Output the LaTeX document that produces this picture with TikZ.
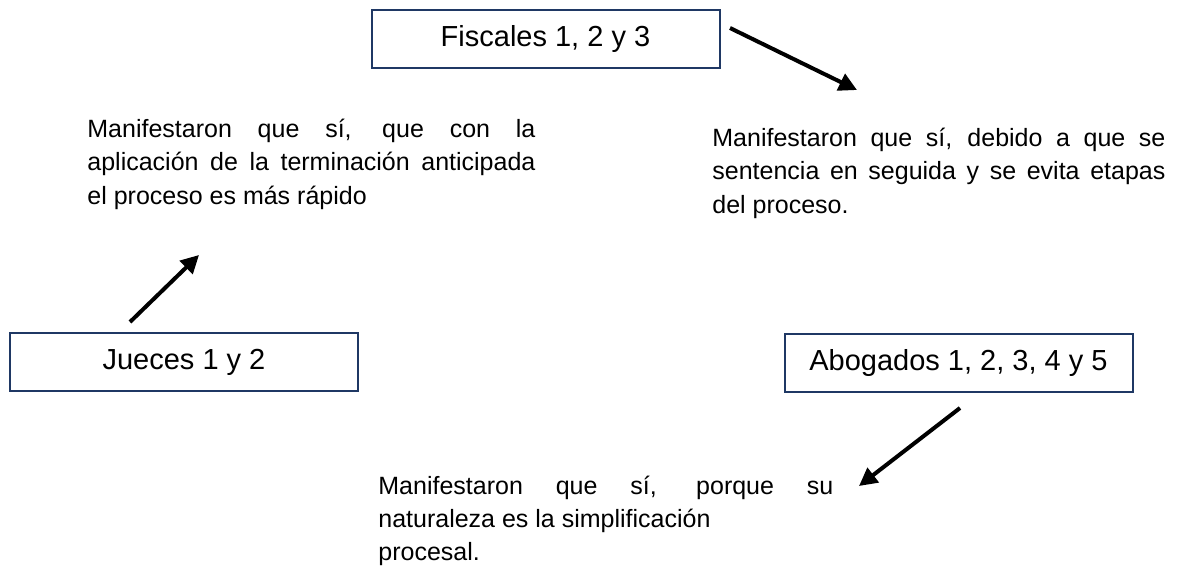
\documentclass[tikz,border=0pt]{standalone}
\usepackage{fontspec}
\setmainfont{Liberation Sans}
\usetikzlibrary{arrows.meta}
\definecolor{boxline}{HTML}{1F3864}
\begin{document}
\begin{tikzpicture}[x=0.5pt,y=-0.5pt,
  grupo/.style={draw=boxline,line width=1pt,minimum width=174pt,minimum height=29pt,inner sep=0pt,font=\fontsize{14.5}{17}\selectfont},
  respuesta/.style={anchor=base west,inner sep=0pt,align=justify,text width=#1,font=\fontsize{12.5}{16.5}\selectfont},
  flecha/.style={line width=2pt,-{Triangle[length=9pt,width=9pt]}}]
\useasboundingbox (0,0) rectangle (1177,567);

\node[grupo] (fiscales) at (545.5,39) {Fiscales 1, 2 y 3};
\node[grupo] (jueces) at (184,362) {Jueces 1 y 2};
\node[grupo] (abogados) at (958.5,362.5) {Abogados 1, 2, 3, 4 y 5};

\node[respuesta=224pt] (respjueces) at (87,138) {Manifestaron que sí, que con la\linebreak aplicación de la terminación anticipada\linebreak el proceso es más rápido};
\node[respuesta=226.5pt] (respfiscales) at (712,147) {Manifestaron que sí, debido a que se\linebreak sentencia en seguida y se evita etapas\linebreak del proceso.};
\node[respuesta=227.5pt] (respabogados) at (378,494) {Manifestaron que sí, porque su\linebreak naturaleza es la simplificación\newline procesal.};

\coordinate (fisout) at (730,28);
\coordinate (fisin) at (857,90);
\coordinate (juezout) at (130,322);
\coordinate (juezin) at (199,255);
\coordinate (abogout) at (960,408);
\coordinate (abogin) at (859,486);

\draw[flecha] (fisout) -- (fisin);
\draw[flecha] (juezout) -- (juezin);
\draw[flecha] (abogout) -- (abogin);
\end{tikzpicture}
\end{document}
